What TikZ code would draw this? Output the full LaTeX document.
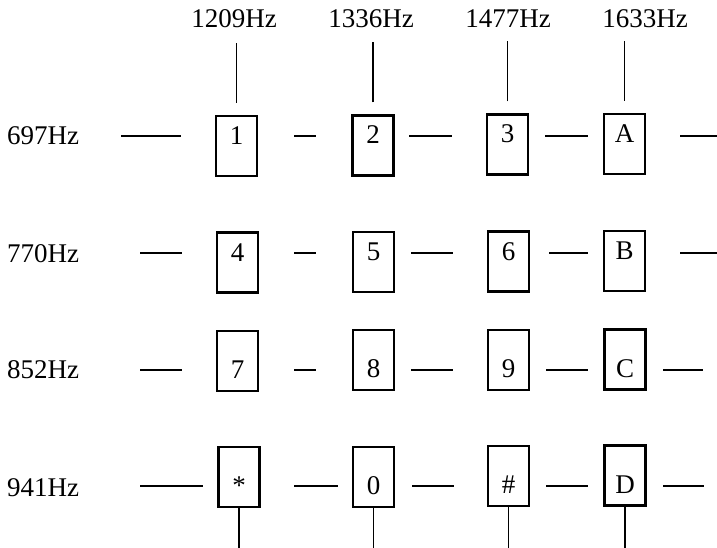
\documentclass[tikz,border=0pt]{standalone}
\usepackage{fontspec}
\setmainfont{Liberation Serif}
\begin{document}
\begin{tikzpicture}[x=1pt,y=-1pt,
  every node/.style={font=\fontsize{27}{31}\selectfont, inner sep=0pt},
  keyhi/.style={draw, line width=2.4pt, minimum width=41pt, minimum height=60pt, text height=28.5pt, text depth=31.5pt},
  keylo/.style={draw, line width=2.4pt, minimum width=41pt, minimum height=60pt, text height=47.5pt, text depth=12.5pt},
  freq/.style={anchor=west},
  tone/.style={line width=2.2pt},
  colline/.style={line width=1.7pt}]
\useasboundingbox (0,0) rectangle (717,548);
\coordinate (bot) at (0,548);

% column headers
\node (h1) at (234,19) {1209Hz};
\node (h2) at (371,19) {1336Hz};
\node (h3) at (508,19) {1477Hz};
\node (h4) at (645,19) {1633Hz};

% row labels
\node[freq] (r1) at (7,136) {697Hz};
\node[freq] (r2) at (7,254) {770Hz};
\node[freq] (r3) at (7,370) {852Hz};
\node[freq] (r4) at (7,488) {941Hz};

% keys
\node[keyhi] (b11) at (236.5,146) {1};
\node[keyhi] (b12) at (373,145.5) {2};
\node[keyhi] (b13) at (507.5,144.5) {3};
\node[keyhi] (b14) at (624.5,144) {A};

\node[keyhi] (b21) at (237.5,262.5) {4};
\node[keyhi] (b22) at (373.5,262) {5};
\node[keyhi] (b23) at (508.5,261.5) {6};
\node[keyhi] (b24) at (624.5,261) {B};

\node[keylo] (b31) at (237.5,361) {7};
\node[keylo] (b32) at (373.5,360) {8};
\node[keylo] (b33) at (508.5,360) {9};
\node[keylo] (b34) at (625,359.5) {C};

\node[keylo] (b41) at (239,477) {*};
\node[keylo] (b42) at (373.5,477) {0};
\node[keylo] (b43) at (508.5,476) {\#};
\node[keylo] (b44) at (625,475.5) {D};

% column lines (top)
\foreach \b in {b11,b12,b13,b14}
  \draw[colline] ([yshift=12pt]\b.north) -- ([yshift=72pt]\b.north);

% column lines (bottom)
\foreach \b in {b41,b42,b43,b44}
  \draw[colline] (\b.south) -- (\b.south |- bot);

% row tone dashes
\foreach \a/\c in {121/181,294/316,409/452,545/588,680/717}
  \draw[tone] (\a,136) -- (\c,136);
\foreach \a/\c in {140/182,294/316,411/453,549/588,680/717}
  \draw[tone] (\a,253) -- (\c,253);
\foreach \a/\c in {140/182,294/316,411/453,546/588,663/703}
  \draw[tone] (\a,370) -- (\c,370);
\foreach \a/\c in {140/203,294/338,412/454,546/588,663/704}
  \draw[tone] (\a,486) -- (\c,486);
\end{tikzpicture}
\end{document}
